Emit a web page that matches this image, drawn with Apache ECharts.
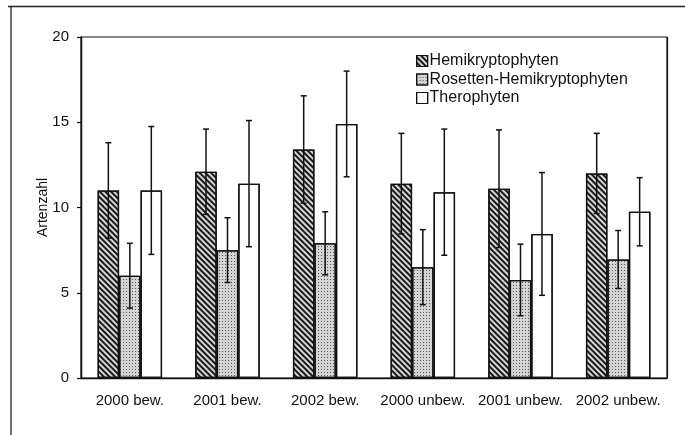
<!DOCTYPE html>
<html>
<head>
<meta charset="utf-8">
<script src="https://cdn.jsdelivr.net/npm/echarts@6/dist/echarts.min.js"></script>
<style>
  html, body { margin: 0; padding: 0; background: #fff; }
  #chart { width: 685px; height: 435px; }
</style>
</head>
<body>
<div id="chart"></div>
<script>
// Species counts (mean and standard deviation) per life-form group
const categories = ['2000 bew.', '2001 bew.', '2002 bew.', '2000 unbew.', '2001 unbew.', '2002 unbew.'];
const seriesNames = ['Hemikryptophyten', 'Rosetten-Hemikryptophyten', 'Therophyten'];

const hemiMean = [11.0, 12.1, 13.4, 11.4, 11.1, 12.0];
const hemiSd   = [2.8, 2.5, 3.15, 2.95, 3.45, 2.35];
const roseMean = [6.0, 7.5, 7.9, 6.5, 5.75, 6.95];
const roseSd   = [1.9, 1.9, 1.85, 2.2, 2.1, 1.7];
const theroMean = [11.0, 11.4, 14.9, 10.9, 8.45, 9.75];
const theroSd   = [3.75, 3.7, 3.1, 3.7, 3.6, 2.0];

const yTicks = [0, 5, 10, 15, 20];

const means = [hemiMean, roseMean, theroMean];
const sds = [hemiSd, roseSd, theroSd];

const CAT_GAP = 0.34;      // share of each category left empty
const font = '"Liberation Sans", Arial, sans-serif';

const fills = [
  {
    color: '#d6d6d6',
    decal: { symbol: 'rect', symbolSize: 1, color: '#1a1a1a',
             dashArrayX: [1, 0], dashArrayY: [1.3, 1.8], rotation: Math.PI / 4 }
  },
  {
    color: '#d4d4d4',
    decal: { symbol: 'rect', symbolSize: 1, color: '#555555',
             dashArrayX: [1, 1.2], dashArrayY: [1, 1.2], rotation: 0 }
  },
  { color: '#ffffff', decal: { symbol: 'none' } }
];

const barSeries = seriesNames.map((name, s) => ({
  name: name,
  type: 'bar',
  barGap: '0%',
  barCategoryGap: (CAT_GAP * 100) + '%',
  data: means[s],
  itemStyle: Object.assign({ borderColor: '#111', borderWidth: 1.3 }, fills[s]),
  emphasis: { disabled: true },
  z: 2
}));

// Error bars: mean ± sd, drawn centred on each bar of a group
const errData = [];
for (let s = 0; s < 3; s++) {
  for (let i = 0; i < categories.length; i++) {
    errData.push([i, means[s][i] - sds[s][i], means[s][i] + sds[s][i], s]);
  }
}

const errSeries = {
  type: 'custom',
  data: errData,
  z: 5,
  silent: true,
  encode: { x: 0, y: [1, 2] },
  renderItem: function (params, api) {
    const idx = api.value(0);
    const lo = api.coord([idx, api.value(1)]);
    const hi = api.coord([idx, api.value(2)]);
    const band = api.size([1, 0])[0];
    const barW = band * (1 - CAT_GAP) / 3;
    const x = lo[0] + (api.value(3) - 1) * barW;
    const cap = 3;
    const st = { stroke: '#111', lineWidth: 1.5 };
    return {
      type: 'group',
      children: [
        { type: 'line', shape: { x1: x, y1: lo[1], x2: x, y2: hi[1] }, style: st },
        { type: 'line', shape: { x1: x - cap, y1: hi[1], x2: x + cap, y2: hi[1] }, style: st },
        { type: 'line', shape: { x1: x - cap, y1: lo[1], x2: x + cap, y2: lo[1] }, style: st }
      ]
    };
  }
};

const chart = echarts.init(document.getElementById('chart'), null, { renderer: 'canvas' });
chart.setOption({
  animation: false,
  backgroundColor: '#fff',
  aria: { enabled: true, decal: { show: true } },
  grid: { left: 81, right: 18, top: 37, bottom: 57, show: true, borderColor: '#111', borderWidth: 1.2 },
  legend: {
    orient: 'vertical',
    left: 411,
    top: 48,
    itemWidth: 11,
    itemHeight: 11,
    itemGap: 2.5,
    icon: 'rect',
    data: seriesNames,
    itemStyle: { borderColor: '#111', borderWidth: 1.2 },
    textStyle: { fontFamily: font, fontSize: 16, color: '#111', padding: [0, 0, 0, -3], lineHeight: 16 },
    selectedMode: false
  },
  xAxis: {
    type: 'category',
    data: categories,
    axisLine: { lineStyle: { color: '#111', width: 1.3 } },
    axisTick: { show: false },
    axisLabel: { fontFamily: font, fontSize: 15, color: '#111', margin: 15, interval: 0 },
    splitLine: {
      show: true,
      interval: function (index) { return index === 3; },
      lineStyle: { color: '#111', width: 1.2 }
    }
  },
  yAxis: {
    type: 'value',
    min: yTicks[0],
    max: yTicks[yTicks.length - 1],
    interval: yTicks[1] - yTicks[0],
    name: 'Artenzahl',
    nameLocation: 'middle',
    nameGap: 31,
    nameMoveOverlap: false,
    nameTextStyle: { fontFamily: font, fontSize: 14, color: '#111' },
    axisLine: { show: true, lineStyle: { color: '#111', width: 1.3 } },
    axisTick: { show: true, length: 4, lineStyle: { color: '#111', width: 1.2 } },
    axisLabel: { fontFamily: font, fontSize: 15, color: '#111', margin: 12 },
    splitLine: { show: false }
  },
  graphic: [
    { type: 'line', shape: { x1: 8, y1: 6.5, x2: 685, y2: 6.5 }, style: { stroke: '#222', lineWidth: 1.3 } },
    { type: 'line', shape: { x1: 11, y1: 6, x2: 11, y2: 435 }, style: { stroke: '#222', lineWidth: 1.3 } }
  ],
  series: barSeries.concat([errSeries])
});
</script>
</body>
</html>
